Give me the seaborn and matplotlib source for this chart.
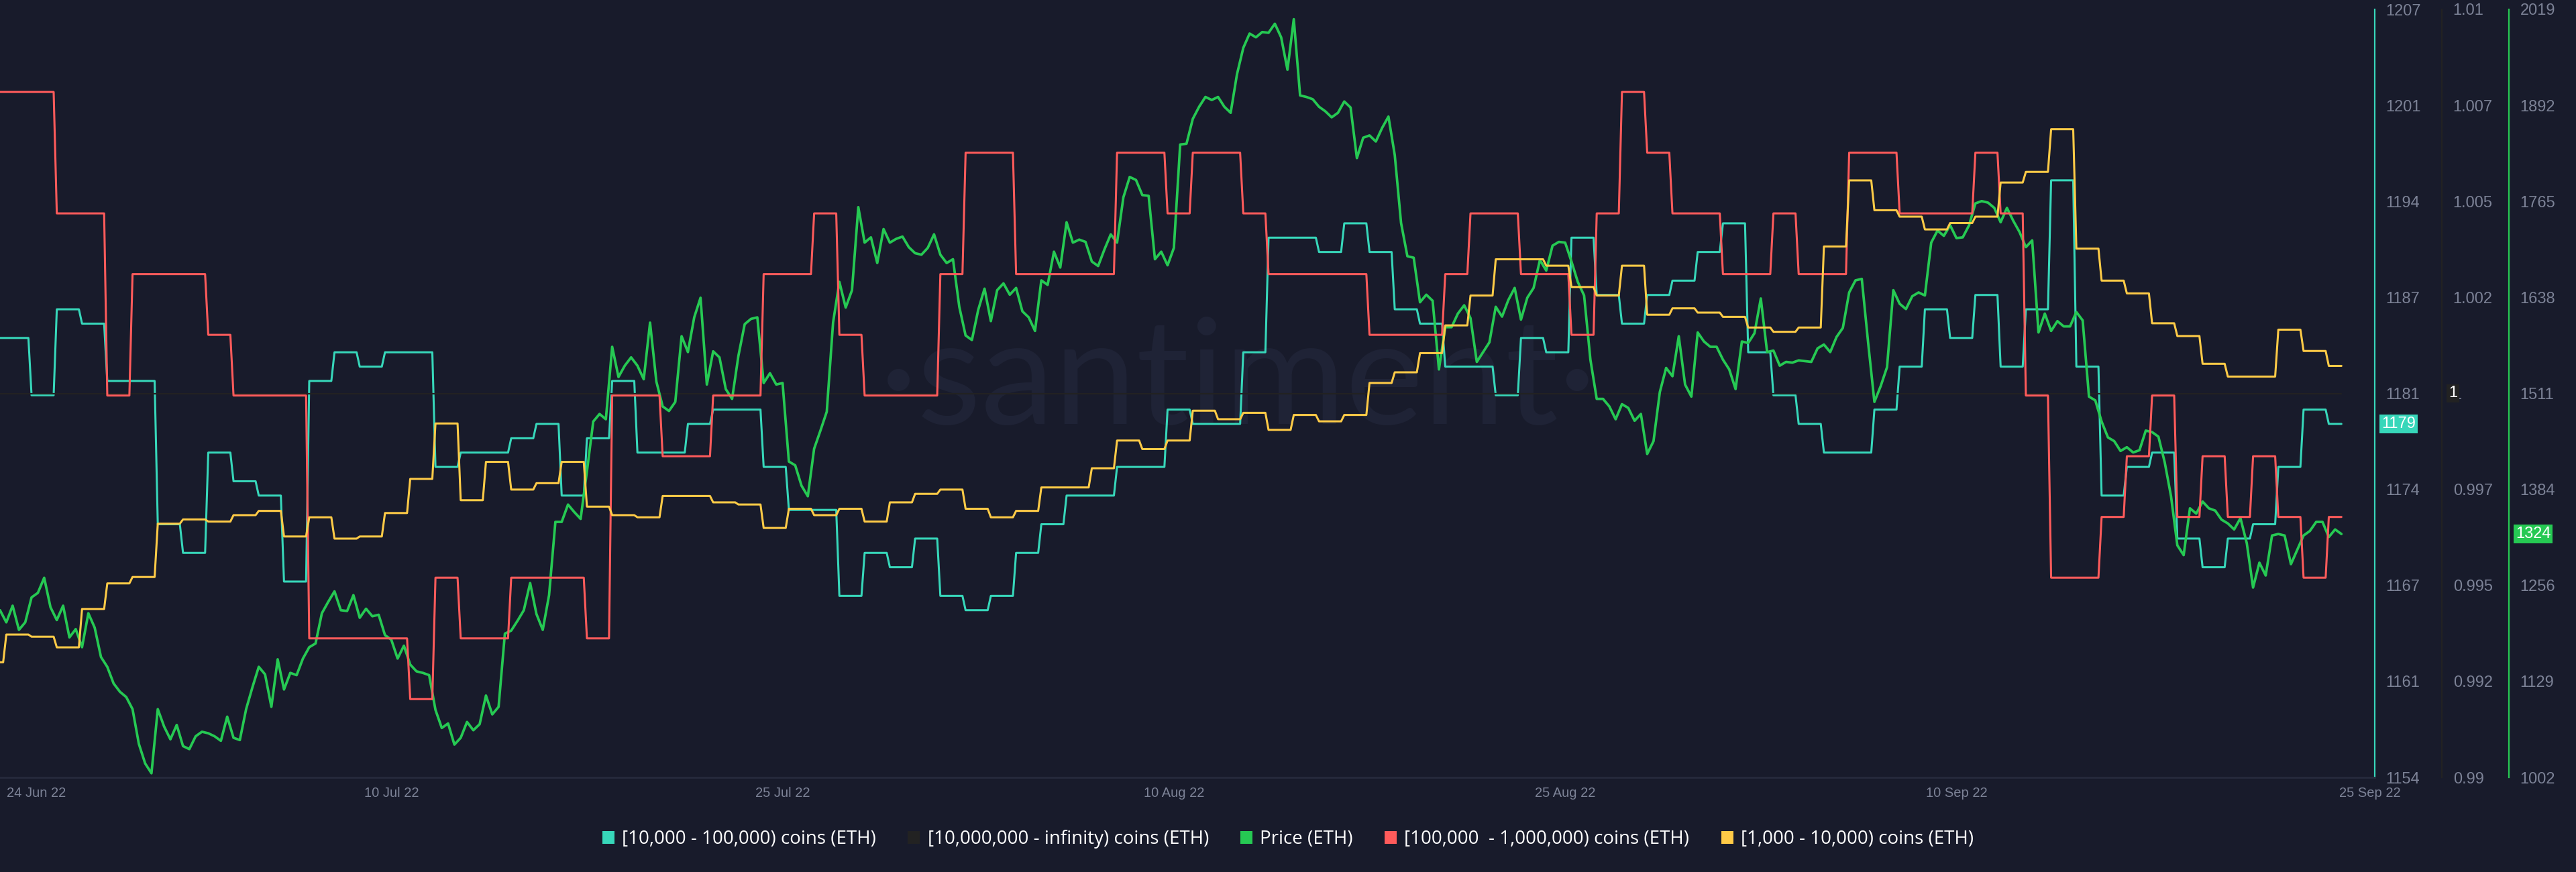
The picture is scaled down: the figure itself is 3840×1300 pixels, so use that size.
import numpy as np
import pandas as pd
import matplotlib
matplotlib.use("Agg")
import matplotlib.pyplot as plt
import seaborn as sns
from matplotlib.patches import Patch
from matplotlib.transforms import ScaledTranslation, blended_transform_factory

# ---------------- data ----------------
series_names = ["[10,000 - 100,000) coins (ETH)", "[10,000,000 - infinity) coins (ETH)",
                "Price (ETH)", "[100,000  - 1,000,000) coins (ETH)", "[1,000 - 10,000) coins (ETH)"]

# holder counts: value valid from the given date (2022) on
teal_dates = ["06-23","06-25","06-26","06-27","06-28","06-30","07-01","07-02","07-03","07-04",
              "07-05","07-06","07-07","07-08","07-09","07-11","07-12","07-14","07-15","07-16",
              "07-17","07-18","07-19","07-21","07-22","07-24","07-25","07-27","07-28","07-29",
              "07-30","07-31","08-01","08-02","08-03","08-04","08-05","08-07","08-09","08-10",
              "08-12","08-13","08-15","08-16","08-17","08-18","08-19","08-20","08-22","08-23",
              "08-24","08-25","08-26","08-27","08-28","08-29","08-30","08-31","09-01","09-02",
              "09-03","09-04","09-06","09-07","09-08","09-09","09-10","09-11","09-12","09-13",
              "09-14","09-15","09-16","09-17","09-18","09-19","09-20","09-21","09-22","09-23","09-24"]
teal_values = [1185,1181,1187,1186,1182,1172,1170,1177,1175,1174,
               1168,1182,1184,1183,1184,1176,1177,1178,1179,1174,
               1178,1182,1177,1179,1180,1176,1173,1167,1170,1169,
               1171,1167,1166,1167,1170,1172,1174,1176,1180,1179,
               1184,1192,1191,1193,1191,1187,1186,1183,1181,1185,
               1184,1192,1188,1186,1188,1189,1191,1193,1184,1181,
               1179,1177,1180,1183,1187,1185,1188,1183,1187,1196,
               1183,1174,1176,1177,1171,1169,1171,1172,1176,1180,1179]

red_dates = ["06-23","06-26","06-28","06-29","07-02","07-03","07-06","07-10","07-11","07-12",
             "07-14","07-17","07-18","07-20","07-22","07-24","07-26","07-27","07-28","07-31",
             "08-01","08-03","08-07","08-09","08-10","08-12","08-13","08-17","08-20","08-21",
             "08-23","08-25","08-26","08-27","08-28","08-29","08-31","09-02","09-03","09-05",
             "09-07","09-10","09-11","09-12","09-13","09-15","09-16","09-17","09-18","09-19",
             "09-20","09-21","09-22","09-23","09-24"]
red_values = [130,128,125,127,126,125,121,120,122,121,
              122,121,125,124,125,127,128,126,125,127,
              129,127,129,128,129,128,127,126,127,128,
              127,126,128,130,129,128,127,128,127,129,
              128,129,128,125,122,123,124,125,123,124,
              123,124,123,122,123]

yellow_dates = ["06-23","06-24","06-25","06-26","06-27","06-28","06-29","06-30",
                "07-01","07-02","07-03","07-04","07-05","07-06","07-07","07-08","07-09","07-10",
                "07-11","07-12","07-13","07-14","07-15","07-16","07-17","07-18","07-19","07-20",
                "07-22","07-23","07-24","07-25","07-26","07-27","07-28","07-29","07-30","07-31",
                "08-01","08-02","08-03","08-04",
                "08-06","08-07","08-08","08-09","08-10","08-11","08-12","08-13","08-14","08-15",
                "08-16","08-17","08-18","08-19","08-20","08-21","08-22",
                "08-24","08-25","08-26","08-27","08-28","08-29","08-30","08-31",
                "09-01","09-02","09-03","09-04","09-05","09-06","09-07","09-08","09-09","09-10",
                "09-11","09-12","09-13","09-14","09-15","09-16","09-17","09-18","09-19","09-20",
                "09-22","09-23","09-24"]
yellow_values = [6054,6067,6066,6061,6079,6091,6094,6119,
                 6121,6120,6123,6125,6113,6122,6112,6113,6124,6140,
                 6166,6130,6148,6135,6138,6148,6127,6123,6122,6132,
                 6129,6128,6117,6126,6123,6126,6120,6129,6133,6135,
                 6126,6122,6125,6136,
                 6145,6158,6154,6158,6172,6168,6171,6163,6170,6167,
                 6170,6185,6190,6199,6212,6226,6243,
                 6240,6230,6226,6240,6217,6220,6218,6216,
                 6211,6209,6211,6249,6280,6266,6263,6257,6260,6263,
                 6279,6284,6304,6248,6233,6227,6213,6207,6194,6188,
                 6210,6200,6193]

dark_value = 1  # [10,000,000 - infinity) holders, flat

# ETH price, 6-hourly from 2022-06-23 18:00
price_values = [
    1223,1207,1229,1197,1207,1240,1246,1266,1227,1210,1229,1187,1198,1174,1219,1200,1161,1148,1126,1115,
    1108,1092,1046,1020,1007,1092,1069,1052,1071,1043,1039,1056,1062,1060,1056,1050,1082,1054,1051,1092,
    1121,1148,1138,1095,1158,1118,1140,1137,1159,1174,1179,1219,1234,1248,1223,1222,1243,1213,1225,1215,
    1217,1190,1184,
    1159,1176,1151,1142,1140,1137,1091,1067,1073,1045,1054,1075,1064,1072,1110,1085,1095,1192,1196,1209,
    1223,1259,1218,1197,1243,1340,1340,1363,1353,1344,1407,1473,1483,1476,1572,1532,1547,1558,1547,1529,
    1604,1526,1493,1487,1499,1586,1565,1611,1637,1522,1566,1558,1516,1503,1560,1602,1609,1611,1524,1537,
    1522,1524,1420,
    1415,1388,1374,1437,1461,1486,1604,1658,1624,1647,1757,1710,1717,1683,1728,1710,1715,1718,1704,1696,
    1694,1703,1721,1694,1683,1688,1625,1587,1581,1621,1649,1606,1647,1656,1641,1650,1619,1611,1593,1660,
    1654,1698,1677,1737,1710,1714,1711,1685,1679,1701,1721,1710,1770,1797,1793,1773,1772,1688,1698,1680,
    1703,1840,1841,
    1874,1890,1903,1899,1903,1890,1882,1933,1968,1987,1982,1989,1988,2000,1982,1939,2006,1905,1903,1900,
    1890,1884,1876,1882,1897,1889,1822,1849,1852,1844,1862,1877,1826,1736,1692,1690,1631,1641,1633,1542,
    1598,1598,1616,1627,1610,1552,1565,1578,1625,1612,1634,1650,1608,1637,1650,1687,1673,1706,1711,1710,
    1685,1658,
    1640,1555,1503,1503,1493,1476,1496,1491,1474,1483,1430,1447,1512,1544,1533,1586,1522,1506,1591,1579,
    1572,1572,1555,1542,1516,1579,1577,1590,1636,1565,1567,1547,1552,1551,1554,1553,1552,1570,1575,1565,
    1585,1597,1644,1660,1662,1578,1499,1520,1545,1647,1629,1622,1639,1644,1640,1710,1726,1719,1733,1716,
    1717,1733,1762,
    1765,1763,1756,1737,1756,1739,1724,1704,1713,1591,1616,1593,1606,1599,1599,1618,1607,1506,1501,1473,
    1452,1447,1434,1439,1432,1435,1461,1459,1453,1419,1374,1309,1296,1358,1351,1367,1358,1355,1343,1338,
    1330,1345,1312,1253,1286,1269,1322,1324,1322,1284,1303,1322,1328,1340,1340,1320,1330,1324]

teal_tick_labels = ["1154", "1161", "1167", "1174", "1181", "1187", "1194", "1201", "1207"]
dark_tick_labels = ["0.99", "0.992", "0.995", "0.997", "1", "1.002", "1.005", "1.007", "1.01"]
price_tick_labels = ["1002", "1129", "1256", "1384", "1511", "1638", "1765", "1892", "2019"]
x_tick_labels = ["24 Jun 22", "10 Jul 22", "25 Jul 22", "10 Aug 22", "25 Aug 22", "10 Sep 22", "25 Sep 22"]

# ---------------- style ----------------
BG = "#181B2B"
TEAL = "#37D7BA"
DARK = "#222222"
GREEN = "#26C953"
RED = "#FF5B5B"
YELLOW = "#FFCB47"
TICK = "#7C8296"
WATER = "#1F2336"

sns.set_theme(style="dark", rc={"axes.facecolor": BG, "figure.facecolor": BG,
                                "axes.grid": False})
plt.rcParams["font.family"] = ["Liberation Sans", "DejaVu Sans"]

start = pd.Timestamp("2022-06-23 18:00")
grid = pd.date_range(start, "2022-09-24 12:00", freq="3h")


def steps(dates, values):
    s = pd.Series(values, index=pd.to_datetime(["2022-" + d for d in dates]))
    return s.reindex(grid, method="ffill")


df = pd.DataFrame({"t": grid,
                   "teal": steps(teal_dates, teal_values).values,
                   "red": steps(red_dates, red_values).values,
                   "yellow": steps(yellow_dates, yellow_values).values,
                   "dark": dark_value})
price_df = pd.DataFrame({"t": pd.date_range(start, periods=len(price_values), freq="6h"),
                         "price": price_values})

W, H = 3840, 1300
fig = plt.figure(figsize=(W / 100, H / 100), dpi=100)
fig.patch.set_facecolor(BG)
plot_right, plot_top, plot_bottom = 3540, 14, 1159
ax = fig.add_axes([0, (H - plot_bottom) / H, plot_right / W, (plot_bottom - plot_top) / H])
ax.set_facecolor(BG)

ax_dark = ax.twinx()
ax_price = ax.twinx()
ax_red = ax.twinx()
ax_yel = ax.twinx()
ax.yaxis.tick_right()

# watermark
ax.text(0.5215, 0.46, "·santiment·", transform=ax.transAxes, ha="center", va="baseline",
        fontsize=158, color=WATER, family=["Lato", "DejaVu Sans"], zorder=0)

sns.lineplot(data=df, x="t", y="dark", ax=ax_dark, color=DARK, linewidth=1.6, estimator=None)
sns.lineplot(data=df, x="t", y="teal", ax=ax, color=TEAL, linewidth=2.2, estimator=None, zorder=3)
sns.lineplot(data=df, x="t", y="yellow", ax=ax_yel, color=YELLOW, linewidth=2.2, estimator=None)
sns.lineplot(data=df, x="t", y="red", ax=ax_red, color=RED, linewidth=2.2, estimator=None)
sns.lineplot(data=price_df, x="t", y="price", ax=ax_price, color=GREEN, linewidth=2.7, estimator=None)

# y limits
teal_lim = (1154.33, 1207.93)
dark_lim = (0.99, 1.01)
price_lim = (1001.5, 2019.0)
ax.set_ylim(*teal_lim)
ax_dark.set_ylim(*dark_lim)
ax_price.set_ylim(*price_lim)
ax_red.set_ylim(118.71, 131.36)
ax_yel.set_ylim(6000, 6360.2)

# x axis
x_end = start + pd.Timedelta(days=94.07)
ax.set_xlim(start, x_end)
xt = [start + pd.Timedelta(days=15.5 * i) for i in range(len(x_tick_labels))]
ax.set_xticks(xt)
ax.set_xticklabels(x_tick_labels)
ax.tick_params(axis="x", length=0, pad=10, labelsize=14.5, labelcolor=TICK)
labs = ax.get_xticklabels()
labs[0].set_ha("left")
labs[0].set_transform(labs[0].get_transform() + ScaledTranslation(0.10, 0, fig.dpi_scale_trans))
labs[-1].set_transform(labs[-1].get_transform() + ScaledTranslation(0.33, 0, fig.dpi_scale_trans))

for a in (ax, ax_dark, ax_price, ax_red, ax_yel):
    a.set_xlabel("")
    a.set_ylabel("")
    for sp in ("left", "top", "right", "bottom"):
        a.spines[sp].set_visible(False)

ax.spines["bottom"].set_visible(True)
ax.spines["bottom"].set_color("#262A3C")
ax.spines["bottom"].set_linewidth(2)

tick_font = ["Liberation Sans Narrow", "Liberation Sans", "DejaVu Sans"]


def right_axis(a, lim, labels, color, offset_px):
    a.spines["right"].set_visible(True)
    a.spines["right"].set_color(color)
    a.spines["right"].set_linewidth(1.6)
    a.spines["right"].set_position(("axes", 1 + offset_px / plot_right))
    a.set_yticks(np.linspace(lim[0], lim[1], len(labels)))
    a.set_yticklabels(labels, family=tick_font)
    a.tick_params(axis="y", length=0, pad=12, labelsize=17, labelcolor=TICK,
                  right=True, labelright=True, left=False, labelleft=False)


right_axis(ax, teal_lim, teal_tick_labels, TEAL, 0)
right_axis(ax_dark, dark_lim, dark_tick_labels, DARK, 100)
right_axis(ax_price, price_lim, price_tick_labels, GREEN, 200)
for a in (ax_red, ax_yel):
    a.set_yticks([])

# last-value badges
def badge(a, offset_px, value, text, color):
    tr = blended_transform_factory(a.transAxes, a.transData)
    a.text(1 + (offset_px + 10) / plot_right, value, text, transform=tr, ha="left", va="center",
           fontsize=17, color="white", family=tick_font, zorder=20, clip_on=False,
           bbox=dict(boxstyle="square,pad=0.12", fc=color, ec="none"))


badge(ax, 0, teal_values[-1], f"{teal_values[-1]}", TEAL)
badge(ax_dark, 100, dark_value, f"{dark_value}", DARK)
badge(ax_price, 200, price_values[-1], f"{price_values[-1]}", GREEN)

# legend
colors = [TEAL, DARK, GREEN, RED, YELLOW]
handles = [Patch(facecolor=c, edgecolor="none") for c in colors]
fig.legend(handles, series_names, loc="center", bbox_to_anchor=(0.5, 1 - 1251 / H), ncol=5,
           frameon=False, labelcolor="white", handlelength=0.65, handleheight=0.65,
           handletextpad=0.4, columnspacing=1.7, prop={"family": ["Open Sans", "DejaVu Sans"], "size": 20})

fig.savefig("out.png", dpi=100, facecolor=BG)
